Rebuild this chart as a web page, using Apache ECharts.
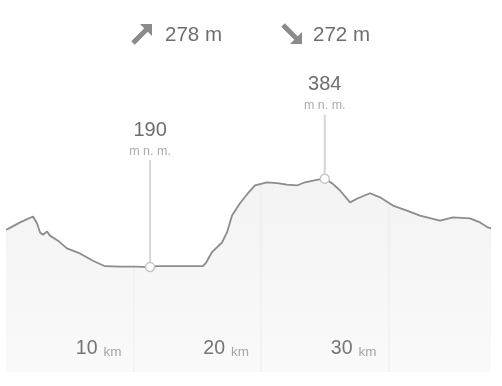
<!DOCTYPE html>
<html>
<head>
<meta charset="utf-8">
<style>
html,body{margin:0;padding:0;background:#fff;}
#c{width:502px;height:386px;}
</style>
<script src="https://cdn.jsdelivr.net/npm/echarts@6/dist/echarts.min.js"></script>
</head>
<body>
<div id="c"></div>
<script>
// Distance along the route (km)
const distKm = [0, 0.24, 1.1, 2.12, 2.43, 2.67, 2.9, 3.22, 3.45, 4.08, 4.78, 5.8, 6.82, 7.76, 8.94, 10.2, 11.3, 11.84, 12.63, 14.04, 15.45, 15.7, 16.16, 16.94, 17.33, 17.73, 18.35, 18.98, 19.53, 20.47, 21.25, 22.04, 22.82, 23.45, 24.47, 25.0, 25.57, 26.2, 26.98, 27.6, 28.55, 29.33, 30.35, 31.45, 32.47, 34.04, 35.06, 36.39, 37.18, 37.8, 38.04];
// Elevation (m a.s.l.)
const elevM = [272, 275, 288, 301, 286, 266, 261, 268, 259, 248, 231, 220, 204, 192, 191, 191, 190, 192, 192, 192, 192, 200, 223, 244, 266, 303, 330, 352, 369, 376, 374, 371, 369, 376, 382, 384, 374, 358, 332, 341, 352, 343, 325, 314, 303, 292, 299, 297, 288, 277, 275];
const totalAscent = 278;
const totalDescent = 272;
const kmTicks = [10, 20, 30];
const unitElev = 'm n. m.';
const unitDist = 'km';

const Y_MIN = -40, Y_MAX = 620;
const pts = distKm.map((d, i) => [d, elevM[i]]);

const chart = echarts.init(document.getElementById('c'), null, {renderer: 'canvas'});
const font = 'Liberation Sans, Arial, sans-serif';

chart.setOption({
  animation: false,
  backgroundColor: '#ffffff',
  grid: {left: 6, right: 11, top: 71, bottom: 14},
  xAxis: {
    type: 'value', min: 0, max: distKm[distKm.length - 1], interval: 10,
    axisLine: {show: false}, axisTick: {show: false},
    splitLine: {show: true, showMinLine: false, showMaxLine: false, lineStyle: {color: '#f9f9f9', width: 2}},
    axisLabel: {
      inside: true, margin: 13, align: 'right',
      formatter: v => kmTicks.indexOf(v) >= 0 ? '{a|' + v + '}{b|' + unitDist + '}' : '',
      rich: {
        a: {fontSize: 19.5, color: '#777777', fontFamily: font, verticalAlign: 'bottom', lineHeight: 15.5},
        b: {fontSize: 13.5, color: '#a9a9a9', fontFamily: font, verticalAlign: 'bottom', lineHeight: 13.5, padding: [0, 12, 0, 6]}
      }
    }
  },
  yAxis: {
    type: 'value', min: Y_MIN, max: Y_MAX,
    axisLine: {show: false}, axisTick: {show: false}, axisLabel: {show: false}, splitLine: {show: false}
  },
  series: [
    {
      // white cover above the profile, hides grid lines there
      type: 'line', data: pts, symbol: 'none', z: 2, silent: true,
      lineStyle: {width: 0, opacity: 0},
      areaStyle: {color: '#ffffff', opacity: 1, origin: 'end'}
    },
    {
      type: 'line', data: pts, symbol: 'none', z: 3,
      lineStyle: {color: '#8c8c8c', width: 1.8},
      areaStyle: {
        origin: 'start',
        color: new echarts.graphic.LinearGradient(0, 0, 0, 1, [
          {offset: 0, color: 'rgba(0,0,0,0.065)'},
          {offset: 1, color: 'rgba(0,0,0,0.03)'}
        ])
      }
    }
  ]
});

// Extreme-point annotations positioned through the chart's scales
function extremes() {
  let iMin = 0, iMax = 0;
  elevM.forEach((v, i) => { if (v < elevM[iMin]) iMin = i; if (v > elevM[iMax]) iMax = i; });
  return [{i: iMin, stem: 107}, {i: iMax, stem: 64}];
}
const g = [];
extremes().forEach(e => {
  const p = chart.convertToPixel({gridIndex: 0}, [distKm[e.i], elevM[e.i]]);
  const top = p[1] - e.stem;
  g.push({type: 'line', z: 20, shape: {x1: p[0], y1: p[1], x2: p[0], y2: top}, style: {stroke: '#d6d6d6', lineWidth: 2}});
  g.push({type: 'circle', z: 21, shape: {cx: p[0], cy: p[1], r: 4.5}, style: {fill: '#ffffff', stroke: '#c4c4c4', lineWidth: 1.5}});
  g.push({type: 'text', z: 21, style: {x: p[0], y: top - 9, text: unitElev, fill: '#ababab', font: '12.5px ' + font, align: 'center', verticalAlign: 'middle'}});
  g.push({type: 'text', z: 21, style: {x: p[0], y: top - 30, text: String(elevM[e.i]), fill: '#6e6e6e', font: '20px ' + font, align: 'center', verticalAlign: 'middle'}});
});
// Header: ascent / descent
const upArrow = [[20,0],[20,12],[15.75,7.75],[2.75,20.75],[-0.75,17.25],[12.25,4.25],[8,0]];
const downArrow = upArrow.map(q => [q[0], 20 - q[1]]);
g.push({type: 'polygon', z: 20, x: 132, y: 24, shape: {points: upArrow}, style: {fill: '#8a8a8a'}});
g.push({type: 'text', z: 20, style: {x: 165, y: 35, text: totalAscent + ' m', fill: '#6e6e6e', font: '20.5px ' + font, verticalAlign: 'middle'}});
g.push({type: 'polygon', z: 20, x: 282, y: 24, shape: {points: downArrow}, style: {fill: '#8a8a8a'}});
g.push({type: 'text', z: 20, style: {x: 313, y: 35, text: totalDescent + ' m', fill: '#6e6e6e', font: '20.5px ' + font, verticalAlign: 'middle'}});
chart.setOption({graphic: g});
</script>
</body>
</html>
